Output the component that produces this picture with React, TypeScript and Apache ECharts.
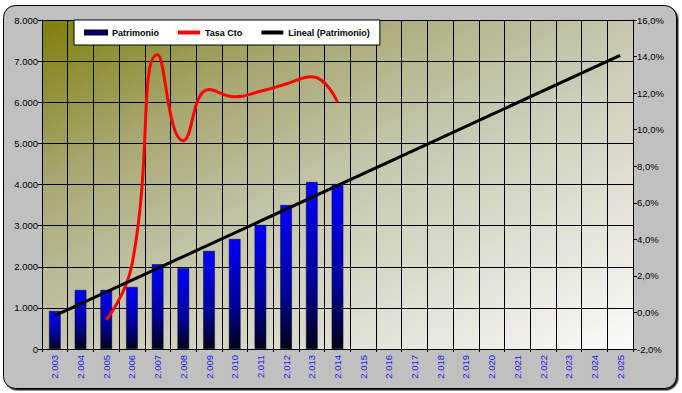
import React, { useEffect, useRef } from 'react';
import * as echarts from 'echarts';

const years = [
  '2.003', '2.004', '2.005', '2.006', '2.007', '2.008', '2.009', '2.010', '2.011', '2.012', '2.013', '2.014',
  '2.015', '2.016', '2.017', '2.018', '2.019', '2.020', '2.021', '2.022', '2.023', '2.024', '2.025',
];
const patrimonio = [924, 1435, 1435, 1508, 2060, 1962, 2383, 2675, 3015, 3500, 4060, 4012];
const tasaCto: (number | null)[] = [null, null, -0.4, 2.6, 14.1, 9.4, 12.2, 11.8, 12.1, 12.5, 12.9, 11.5];
const trendStart = 810; // Lineal (Patrimonio) at 2.003
const trendEnd = 7140; // Lineal (Patrimonio) at 2.025

const FONT = '"Liberation Sans", Arial, sans-serif';

function thousands(v: number): string {
  return String(v).replace(/\B(?=(\d{3})+(?!\d))/g, '.');
}

export default function App() {
  const ref = useRef<HTMLDivElement>(null);
  useEffect(() => {
    if (!ref.current) return;
    const chart = echarts.init(ref.current, undefined, { renderer: 'svg' });
    const last = years.length - 1;
    const trend = years.map((_, i) => (i === 0 ? trendStart : i === last ? trendEnd : null));
    const rate = years.map((_, i) => (i < tasaCto.length ? tasaCto[i] : null));
    chart.setOption({
      animation: false,
      backgroundColor: '#ffffff',
      textStyle: { fontFamily: FONT },
      graphic: [
        {
          type: 'rect',
          z: -100,
          silent: true,
          shape: { x: 3.5, y: 5.5, width: 673, height: 383, r: 12 },
          style: {
            fill: '#c0c0c0',
            stroke: '#000000',
            lineWidth: 1,
            shadowColor: 'rgba(0,0,0,0.85)',
            shadowOffsetX: 1.5,
            shadowOffsetY: 1.5,
            shadowBlur: 1,
          },
        },
      ],
      legend: {
        left: 74,
        top: 20,
        padding: [8, 10, 8, 10],
        backgroundColor: '#ffffff',
        borderColor: '#000000',
        borderWidth: 1,
        itemGap: 19,
        itemWidth: 22,
        itemHeight: 4,
        textStyle: { fontSize: 9, fontWeight: 'bold', color: '#000', fontFamily: FONT },
        data: [
          { name: 'Patrimonio', icon: 'rect', itemStyle: { color: '#000080' } },
          { name: 'Tasa Cto', icon: 'rect', itemStyle: { color: '#ff0000' } },
          { name: 'Lineal (Patrimonio)', icon: 'rect', itemStyle: { color: '#000000' } },
        ],
      },
      grid: {
        left: 42,
        right: 49,
        top: 20,
        bottom: 44,
        show: true,
        borderWidth: 0,
        backgroundColor: new echarts.graphic.LinearGradient(0, 0, 1, 1, [
          { offset: 0, color: '#7f7f0a' },
          { offset: 0.25, color: '#a7a770' },
          { offset: 0.5, color: '#c6c6ae' },
          { offset: 0.75, color: '#e0e0d4' },
          { offset: 1, color: '#fbfbf9' },
        ]),
      },
      xAxis: {
        type: 'category',
        data: years,
        boundaryGap: true,
        axisLine: { show: true, lineStyle: { color: '#000', width: 1 } },
        axisTick: { show: true, interval: 0, length: 3, lineStyle: { color: '#000' } },
        splitLine: { show: true, interval: 0, lineStyle: { color: '#000', width: 1 } },
        axisLabel: {
          interval: 0,
          rotate: 90,
          margin: 6,
          fontSize: 9.5,
          color: '#1a1ae6',
          fontFamily: FONT,
        },
      },
      yAxis: [
        {
          type: 'value',
          position: 'left',
          min: 0,
          max: 8000,
          interval: 1000,
          axisLine: { show: true, lineStyle: { color: '#000', width: 1 } },
          axisTick: { show: true, length: 4, lineStyle: { color: '#000' } },
          splitLine: { show: true, lineStyle: { color: '#000', width: 1 } },
          axisLabel: { formatter: (v: number) => thousands(v), fontSize: 9.5, color: '#000', margin: 4, fontFamily: FONT },
        },
        {
          type: 'value',
          position: 'right',
          min: -2,
          max: 16,
          interval: 2,
          axisLine: { show: true, lineStyle: { color: '#000', width: 1 } },
          axisTick: { show: true, length: 4, lineStyle: { color: '#000' } },
          splitLine: { show: false },
          axisLabel: {
            formatter: (v: number) => v.toFixed(1).replace('.', ',') + '%',
            fontSize: 9.5,
            color: '#000',
            margin: 4,
            fontFamily: FONT,
          },
        },
      ],
      series: [
        {
          name: 'Patrimonio',
          type: 'bar',
          data: patrimonio,
          barWidth: '45%',
          itemStyle: {
            color: new echarts.graphic.LinearGradient(0, 0, 0, 1, [
              { offset: 0, color: '#0000ff' },
              { offset: 0.6, color: '#00009a' },
              { offset: 1, color: '#000018' },
            ]),
            borderColor: '#000030',
            borderWidth: 0.5,
          },
        },
        {
          name: 'Tasa Cto',
          type: 'line',
          yAxisIndex: 1,
          data: rate,
          smooth: 0.5,
          symbol: 'none',
          connectNulls: false,
          lineStyle: { color: '#ff0000', width: 3 },
          itemStyle: { color: '#ff0000' },
        },
        {
          name: 'Lineal (Patrimonio)',
          type: 'line',
          data: trend,
          connectNulls: true,
          symbol: 'none',
          lineStyle: { color: '#000000', width: 3 },
          itemStyle: { color: '#000000' },
        },
      ],
    });
    return () => chart.dispose();
  }, []);
  return <div ref={ref} style={{ position: 'fixed', left: 0, top: 0, width: 682, height: 393 }} />;
}
